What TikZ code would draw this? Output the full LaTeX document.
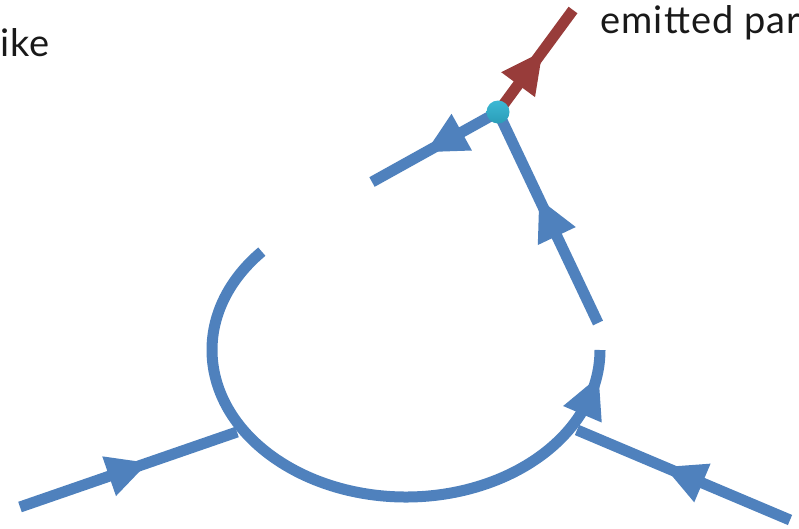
\documentclass[tikz,border=0pt]{standalone}
\usepackage{fontspec}
\setmainfont{Lato}
\usetikzlibrary{decorations.markings}
\definecolor{fblue}{HTML}{4F81BD}
\definecolor{fred}{HTML}{983C3A}
\definecolor{fcyanT}{HTML}{3DB8D4}
\definecolor{fcyanB}{HTML}{2A9DB8}
\tikzset{
  prop/.style={line width=11pt, draw=fblue},
  redprop/.style={line width=11pt, draw=fred},
  midtri/.style 2 args={postaction={decorate,decoration={markings,
      mark=at position #1 with {\fill[#2] (20.5pt,0pt) -- (-20.5pt,21pt) -- (-20.5pt,-21pt) -- cycle;}}}},
  vertex/.style={circle, top color=fcyanT, bottom color=fcyanB, draw=none, minimum size=23pt, inner sep=0pt},
  lbl/.style={font=\fontsize{38}{44}\selectfont\addfontfeature{LetterSpace=3}, inner sep=0pt, text=black!90}
}
\begin{document}
\begin{tikzpicture}[x=1pt,y=-1pt]
\useasboundingbox (0,0) rectangle (799,528);
% labels
\node[lbl, anchor=base west] (t1) at (0,56) {ike};
\node[lbl, anchor=base west] (t2) at (600,33) {emitted par};
% named points
\coordinate (c) at (406,350);
\coordinate (inA) at (20,507);
\coordinate (jA) at (237,432);
\coordinate (inB) at (790,520);
\coordinate (jB) at (577,430);
\coordinate (rEnd) at (598,323);
\coordinate (lEnd) at (372,182);
\coordinate (gEnd) at (573,10);
\node[inner sep=0pt, minimum size=0pt] (v) at (498,112) {};
% loop arc
\draw[prop, midtri={1}{fblue}] (c) ++(138:194pt and 147pt) coordinate (aS)
   arc[start angle=138, end angle=342, x radius=194pt, y radius=147pt] coordinate (aM);
\draw[prop] (aM) arc[start angle=342, end angle=360, x radius=194pt, y radius=147pt] coordinate (aE);
% external legs
\draw[prop, midtri={0.5}{fblue}] (inA) -- (jA);
\draw[prop, midtri={0.5}{fblue}] (inB) -- (jB);
\draw[prop, midtri={0.5}{fblue}] (rEnd) -- (v.center);
\draw[prop, midtri={0.43}{fblue}] (v.center) -- (lEnd);
\draw[redprop, midtri={0.43}{fred}] (v.center) -- (gEnd);
% vertex dot
\node[vertex] (dot) at (v) {};
\end{tikzpicture}
\end{document}
